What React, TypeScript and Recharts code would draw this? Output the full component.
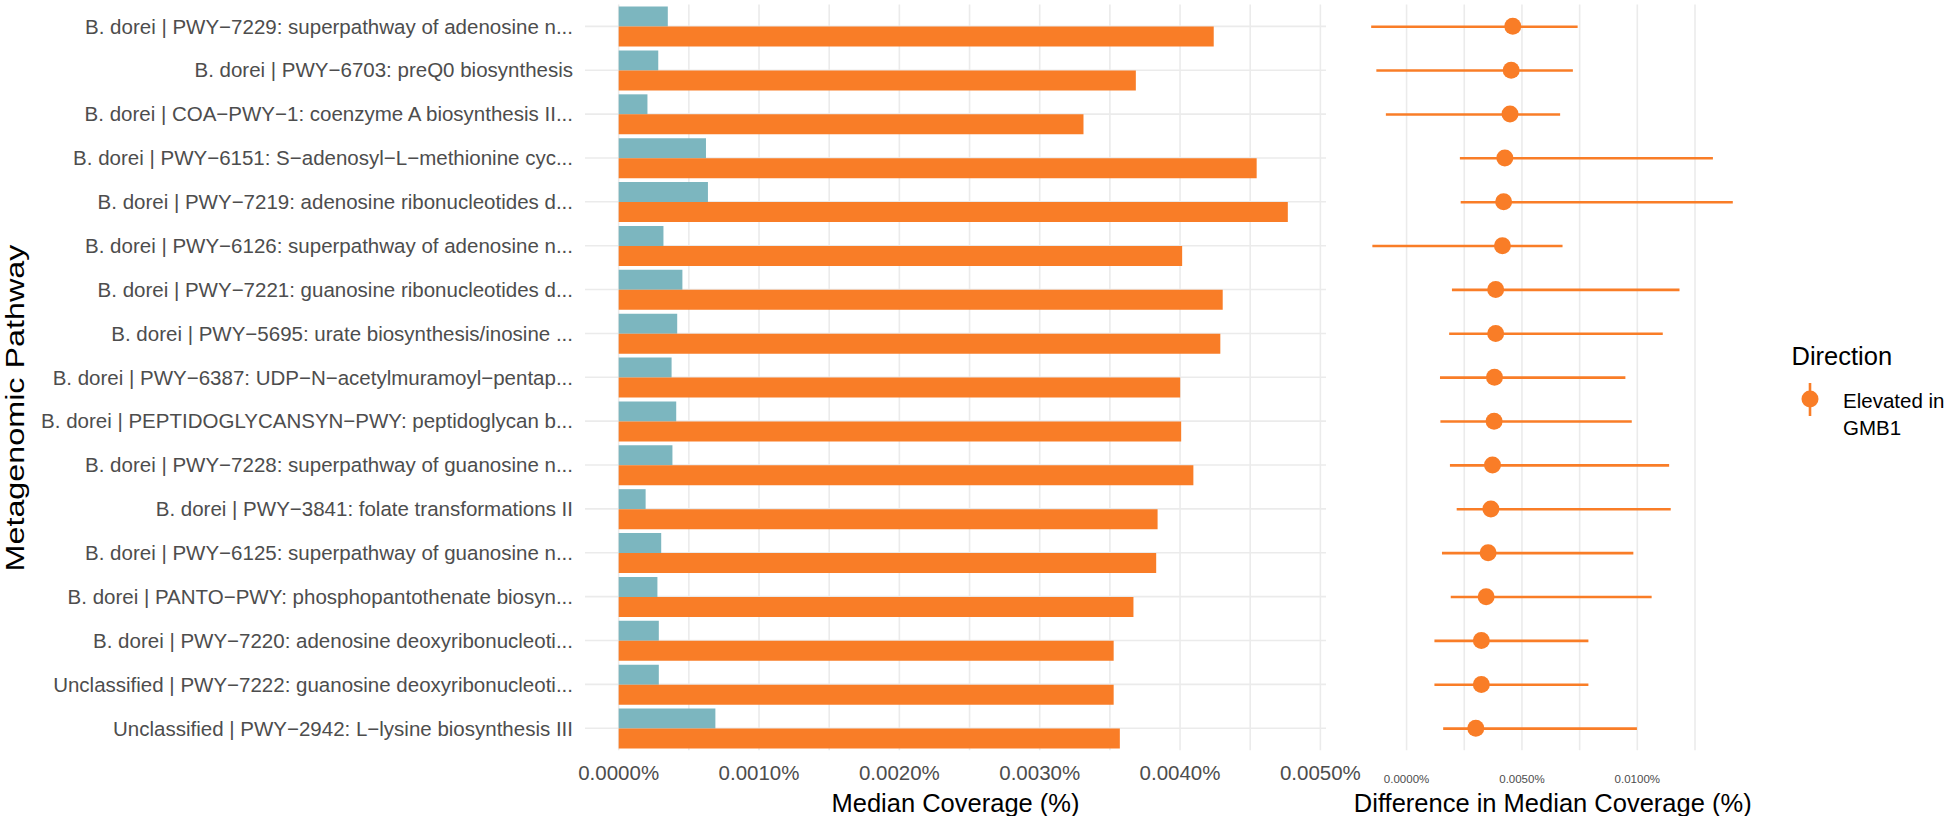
import React from 'react';
import { BarChart, ComposedChart, Bar, Line, XAxis, YAxis, CartesianGrid } from 'recharts';

// ---- data (top to bottom) ----
const pathways = [
  'B. dorei | PWY\u22127229: superpathway of adenosine n...',
  'B. dorei | PWY\u22126703: preQ0 biosynthesis',
  'B. dorei | COA\u2212PWY\u22121: coenzyme A biosynthesis II...',
  'B. dorei | PWY\u22126151: S\u2212adenosyl\u2212L\u2212methionine cyc...',
  'B. dorei | PWY\u22127219: adenosine ribonucleotides d...',
  'B. dorei | PWY\u22126126: superpathway of adenosine n...',
  'B. dorei | PWY\u22127221: guanosine ribonucleotides d...',
  'B. dorei | PWY\u22125695: urate biosynthesis/inosine ...',
  'B. dorei | PWY\u22126387: UDP\u2212N\u2212acetylmuramoyl\u2212pentap...',
  'B. dorei | PEPTIDOGLYCANSYN\u2212PWY: peptidoglycan b...',
  'B. dorei | PWY\u22127228: superpathway of guanosine n...',
  'B. dorei | PWY\u22123841: folate transformations II',
  'B. dorei | PWY\u22126125: superpathway of guanosine n...',
  'B. dorei | PANTO\u2212PWY: phosphopantothenate biosyn...',
  'B. dorei | PWY\u22127220: adenosine deoxyribonucleoti...',
  'Unclassified | PWY\u22127222: guanosine deoxyribonucleoti...',
  'Unclassified | PWY\u22122942: L\u2212lysine biosynthesis III',
];

// median coverage (%), comparison group (teal)
const otherMedian = [
  0.00035, 0.000282, 0.000205, 0.000622, 0.000636, 0.000319, 0.000454, 0.000417, 0.000377,
  0.00041, 0.000383, 0.000192, 0.000303, 0.000276, 0.000286, 0.000286, 0.000689,
];
// median coverage (%), GMB1 (orange)
const gmb1Median = [
  0.00424, 0.003685, 0.003312, 0.004546, 0.004768, 0.004015, 0.004304, 0.004287, 0.004001,
  0.004008, 0.004095, 0.00384, 0.00383, 0.003668, 0.003527, 0.003527, 0.003571,
];

// difference in median coverage (%) with interval
const diffEstimate = [
  0.004603, 0.004534, 0.004483, 0.004259, 0.004207, 0.004155, 0.003862, 0.003862, 0.00381,
  0.003793, 0.003724, 0.003655, 0.003534, 0.003448, 0.003241, 0.003241, 0.003,
];
const diffLow = [
  -0.001534, -0.00131, -0.000897, 0.00231, 0.002345, -0.001483, 0.001966, 0.001845, 0.001448,
  0.001466, 0.001879, 0.002172, 0.001534, 0.001914, 0.001207, 0.001207, 0.001586,
];
const diffHigh = [
  0.007414, 0.007207, 0.006655, 0.013276, 0.014138, 0.006759, 0.011828, 0.011103, 0.009483,
  0.009759, 0.011379, 0.011448, 0.009828, 0.010621, 0.00788, 0.00788, 0.009983,
];

const leftTicks = [0, 0.001, 0.002, 0.003, 0.004, 0.005];
const leftMinorTicks = [0.0005, 0.0015, 0.0025, 0.0035, 0.0045];
const rightTicks = [0, 0.005, 0.01];
const rightMinorTicks = [0.0025, 0.0075, 0.0125];

const ORANGE = '#F97D27';
const TEAL = '#7CB6BF';
const GRID = '#EBEBEB';
const FONT = '"Liberation Sans", Arial, Helvetica, sans-serif';

const barData = pathways.map((p, i) => ({ pathway: p, other: otherMedian[i], gmb1: gmb1Median[i] }));
const diffData = pathways.map((p, i) => ({
  pathway: p,
  est: diffEstimate[i],
  range: [diffLow[i], diffHigh[i]],
}));

const fmt = (v: number) => v.toFixed(4) + '%';

export default function App() {
  return (
    <div style={{ position: 'absolute', left: 0, top: 0, width: 1946, height: 816, background: '#fff', fontFamily: FONT }}>
      <div style={{ position: 'absolute', left: 0, top: 0 }}>
        <BarChart
          width={1420}
          height={816}
          data={barData}
          layout="vertical"
          margin={{ top: 4.4, right: 94, bottom: 0, left: 0 }}
          barCategoryGap="5%"
          barGap={0}
        >
          <CartesianGrid stroke={GRID} strokeWidth={1.6} syncWithTicks />
          <CartesianGrid stroke={GRID} strokeWidth={1.6} horizontal={false} verticalValues={leftMinorTicks} syncWithTicks />
          <XAxis
            type="number"
            domain={[-0.00024, 0.00504]}
            ticks={leftTicks}
            allowDataOverflow
            tickFormatter={fmt}
            height={65.8}
            tickSize={0}
            tickMargin={15.5}
            axisLine={false}
            interval={0}
            tick={{ fill: '#4D4D4D', fontSize: 20.5, fontFamily: FONT }}
            label={{ value: 'Median Coverage (%)', position: 'insideBottom', offset: 4, fill: '#000', fontSize: 25.5, fontFamily: FONT }}
          />
          <YAxis
            type="category"
            dataKey="pathway"
            width={585}
            tickSize={0}
            tickMargin={12}
            axisLine={false}
            interval={0}
            tick={{ fill: '#4D4D4D', fontSize: 20.5, fontFamily: FONT }}
          />
          <Bar dataKey="other" name="Other" fill={TEAL} isAnimationActive={false} />
          <Bar dataKey="gmb1" name="GMB1" fill={ORANGE} isAnimationActive={false} />
        </BarChart>
      </div>
      <div style={{ position: 'absolute', left: 1330, top: 0 }}>
        <ComposedChart
          width={616}
          height={816}
          data={diffData}
          layout="vertical"
          margin={{ top: 4.4, right: 194, bottom: 0, left: 23.5 }}
        >
          <CartesianGrid stroke={GRID} strokeWidth={1.6} syncWithTicks />
          <CartesianGrid stroke={GRID} strokeWidth={1.6} horizontal={false} verticalValues={rightMinorTicks} syncWithTicks />
          <XAxis
            type="number"
            domain={[-0.0023, 0.01497]}
            ticks={rightTicks}
            allowDataOverflow
            tickFormatter={fmt}
            height={65.8}
            tickSize={0}
            tickMargin={24.7}
            axisLine={false}
            interval={0}
            tick={{ fill: '#4D4D4D', fontSize: 11.5, fontFamily: FONT }}
            label={{ value: 'Difference in Median Coverage (%)', position: 'insideBottom', offset: 4, fill: '#000', fontSize: 25.5, fontFamily: FONT }}
          />
          <YAxis type="category" dataKey="pathway" width={0} tick={false} tickLine={false} axisLine={false} interval={0} />
          <Bar dataKey="range" fill={ORANGE} barSize={2.6} isAnimationActive={false} />
          <Line
            dataKey="est"
            stroke="none"
            strokeWidth={0}
            dot={{ r: 8.5, fill: ORANGE, stroke: 'none' }}
            activeDot={false}
            isAnimationActive={false}
          />
        </ComposedChart>
      </div>
      <svg
        width={1946}
        height={816}
        style={{ position: 'absolute', left: 0, top: 0, pointerEvents: 'none' }}
        fontFamily={FONT}
      >
        <text
          transform="translate(15,408) rotate(-90)"
          textAnchor="middle"
          dominantBaseline="central"
          fontSize={26}
          textLength={327}
          lengthAdjust="spacingAndGlyphs"
          fill="#000"
        >
          Metagenomic Pathway
        </text>
        <text x={1791.5} y={356} dominantBaseline="central" fontSize={25.5} fill="#000">
          Direction
        </text>
        <line x1={1810} x2={1810} y1={383} y2={416} stroke={ORANGE} strokeWidth={2.6} />
        <circle cx={1810} cy={399} r={8.5} fill={ORANGE} />
        <text x={1843} y={400} dominantBaseline="central" fontSize={20.5} fill="#000">
          Elevated in
        </text>
        <text x={1843} y={427} dominantBaseline="central" fontSize={20.5} fill="#000">
          GMB1
        </text>
      </svg>
    </div>
  );
}
